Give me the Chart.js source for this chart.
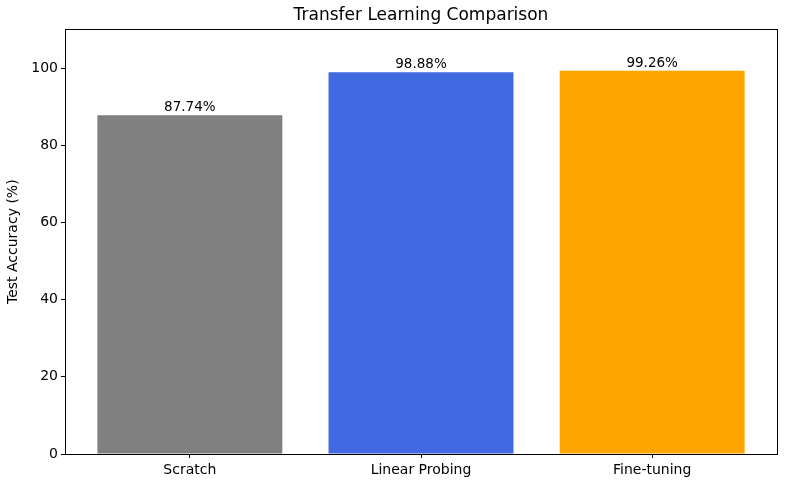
<!DOCTYPE html>
<html>
<head>
<meta charset="utf-8">
<script src="https://cdn.jsdelivr.net/npm/chart.js@4"></script>
<style>
  html, body { margin: 0; padding: 0; background: #fff; }
  #wrap { width: 789px; height: 486px; }
</style>
</head>
<body>
<div id="wrap"><canvas id="chart" width="789" height="486"></canvas></div>
<script>
const categories = ['Scratch', 'Linear Probing', 'Fine-tuning'];
const accuracy = [87.74, 98.88, 99.26];
const barColors = ['#808080', '#4169E1', '#FFA500'];
const yTicks = [0, 20, 40, 60, 80, 100];

Chart.defaults.font.family = 'DejaVu Sans';
Chart.defaults.color = '#000';

// value labels above bars + full frame around the plot
const barLabels = {
  id: 'barLabels',
  afterDatasetsDraw(chart) {
    const ctx = chart.ctx;
    const meta = chart.getDatasetMeta(0);
    ctx.save();
    ctx.font = '13.5px DejaVu Sans';
    ctx.fillStyle = '#000';
    ctx.textAlign = 'center';
    ctx.textBaseline = 'bottom';
    meta.data.forEach((bar, i) => {
      ctx.fillText(accuracy[i].toFixed(2) + '%', bar.x, bar.y - 1);
    });
    const a = chart.chartArea;
    ctx.strokeStyle = '#000';
    ctx.lineWidth = 1;
    ctx.strokeRect(Math.round(a.left) + 0.5, Math.round(a.top) + 0.5,
      Math.round(a.right - a.left), Math.round(a.bottom - a.top));
    ctx.restore();
  }
};

new Chart(document.getElementById('chart'), {
  type: 'bar',
  data: {
    datasets: [{
      data: accuracy.map((v, i) => ({ x: i, y: v })),
      backgroundColor: barColors,
      borderWidth: 0,
      inflateAmount: 0,
      categoryPercentage: 1,
      barPercentage: 0.8
    }]
  },
  options: {
    responsive: false,
    animation: false,
    layout: { padding: { left: 0, right: 12, top: 0, bottom: 0 } },
    plugins: {
      legend: { display: false },
      tooltip: { enabled: false },
      title: {
        display: true,
        fullSize: false,
        text: 'Transfer Learning Comparison',
        font: { size: 17, weight: 'normal' },
        padding: { top: 5, bottom: 4 }
      }
    },
    scales: {
      x: {
        type: 'linear',
        min: -0.54,
        max: 2.54,
        offset: false,
        afterBuildTicks: s => { s.ticks = categories.map((_, i) => ({ value: i })); },
        afterFit: s => { s.height = 32; },
        ticks: {
          font: { size: 14 },
          padding: 4,
          maxRotation: 0,
          callback: v => categories[v] ?? ''
        },
        grid: { offset: false, drawOnChartArea: false, drawTicks: true, tickLength: 4, color: '#000' },
        border: { display: true, color: '#000' }
      },
      y: {
        min: 0,
        max: 110,
        afterBuildTicks: s => { s.ticks = yTicks.map(v => ({ value: v })); },
        afterFit: s => { s.width = 65; },
        ticks: { font: { size: 14 }, padding: 3 },
        title: {
          display: true,
          text: 'Test Accuracy (%)',
          font: { size: 14 },
          padding: { top: 5, bottom: 0 }
        },
        grid: { drawOnChartArea: false, drawTicks: true, tickLength: 4, color: '#000' },
        border: { display: true, color: '#000' }
      }
    }
  },
  plugins: [barLabels]
});
</script>
</body>
</html>
